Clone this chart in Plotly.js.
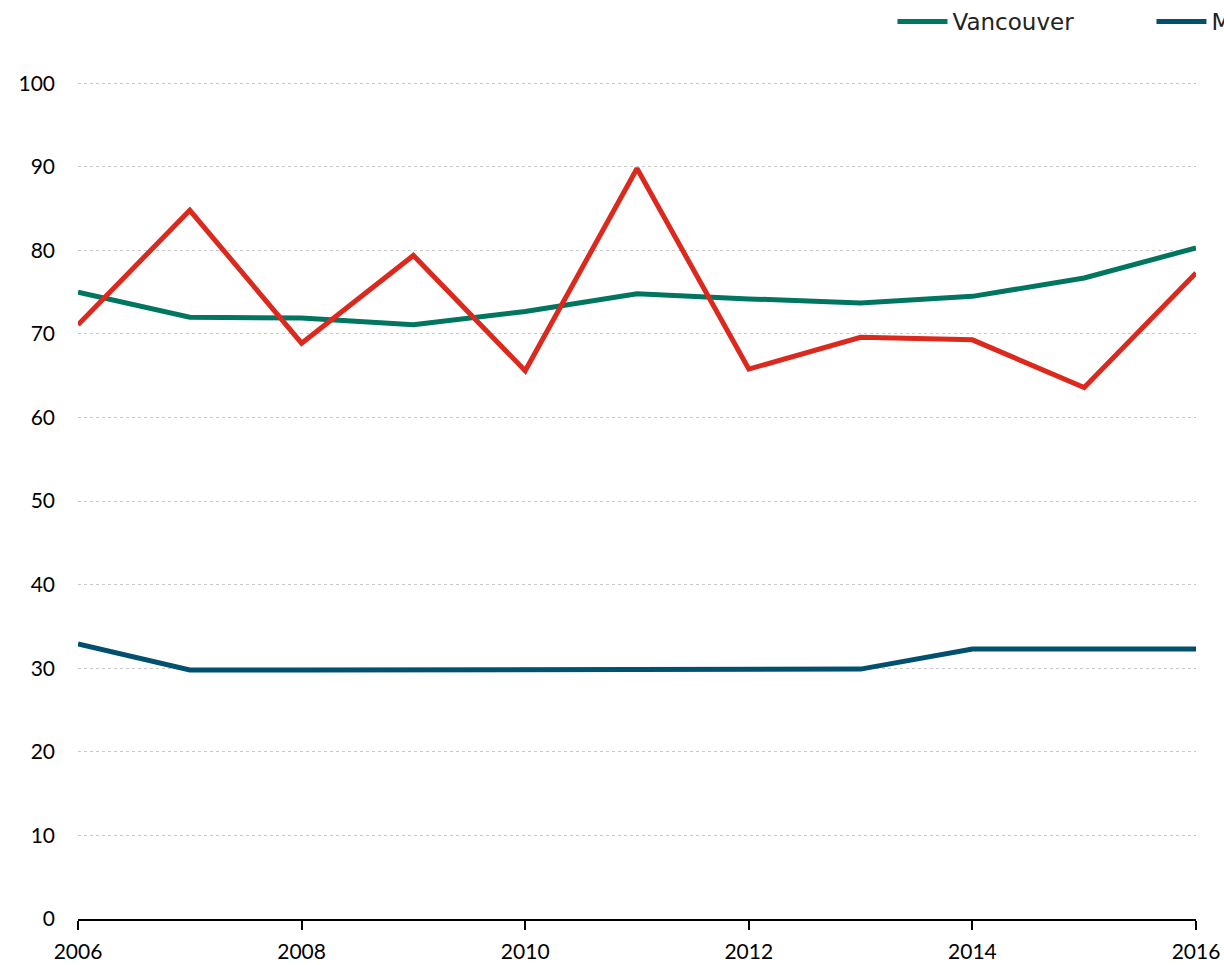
<!DOCTYPE html>
<html>
<head>
<meta charset="utf-8">
<script src="https://cdn.plot.ly/plotly-3.0.1.min.js"></script>
<style>
  html, body { margin: 0; padding: 0; overflow: hidden; background: #fff; }
  #chart { width: 1700px; height: 965px; }
</style>
</head>
<body>
<div id="chart"></div>
<script>
const years = [2006, 2007, 2008, 2009, 2010, 2011, 2012, 2013, 2014, 2015, 2016];
const vancouver = [75.0, 72.0, 71.9, 71.1, 72.7, 74.8, 74.2, 73.7, 74.5, 76.7, 80.3];
const montreal = [32.9, 29.8, 29.8, 29.8, 29.8, 29.9, 29.9, 29.9, 32.3, 32.3, 32.3];
const toronto = [71.1, 84.8, 68.9, 79.4, 65.6, 89.8, 65.8, 69.6, 69.3, 63.6, 77.3];

const tickFont = { family: "Lato, 'Open Sans', sans-serif", size: 21, color: "#000" };

const traces = [
  { x: years, y: vancouver, name: "Vancouver", mode: "lines", line: { color: "#007560", width: 5 } },
  { x: years, y: montreal, name: "Montreal", mode: "lines", line: { color: "#00506e", width: 5 } },
  { x: years, y: toronto, name: "Toronto", mode: "lines", line: { color: "#dc291e", width: 5 } },
];

const layout = {
  width: 1700,
  height: 965,
  margin: { l: 78, r: 504, t: 82, b: 46 },
  paper_bgcolor: "#fff",
  plot_bgcolor: "#fff",
  showlegend: true,
  legend: {
    orientation: "h",
    x: 0.7285, xanchor: "left",
    y: 1, yref: "container", yanchor: "top",
    entrywidth: 194, entrywidthmode: "pixels",
    itemwidth: 50,
    font: { family: "'DejaVu Sans', sans-serif", size: 23, color: "#222" },
    bgcolor: "rgba(0,0,0,0)",
  },
  xaxis: {
    range: [2006, 2016],
    dtick: 2, tick0: 2006,
    showgrid: false, zeroline: false,
    showline: true, linecolor: "#000", linewidth: 2,
    ticks: "outside", ticklen: 9, tickwidth: 2, tickcolor: "#000",
    tickfont: tickFont,
    ticklabelstandoff: 4,
  },
  xaxis2: {
    overlaying: "x", matches: "x", anchor: "y",
    range: [2006, 2016],
    dtick: 2, tick0: 2006,
    showgrid: false, zeroline: false, showline: false,
    ticks: "inside", ticklen: 9, tickwidth: 2, tickcolor: "#000",
    showticklabels: false,
  },
  yaxis: {
    range: [0, 100.15],
    dtick: 10, tick0: 0,
    showline: false, zeroline: false, ticks: "",
    gridcolor: "#c8c8c8", gridwidth: 1, griddash: "dot",
    tickfont: tickFont,
    ticklabelstandoff: 22,
  },
};

Plotly.newPlot("chart", traces, layout, { displayModeBar: false, staticPlot: true });
</script>
</body>
</html>
